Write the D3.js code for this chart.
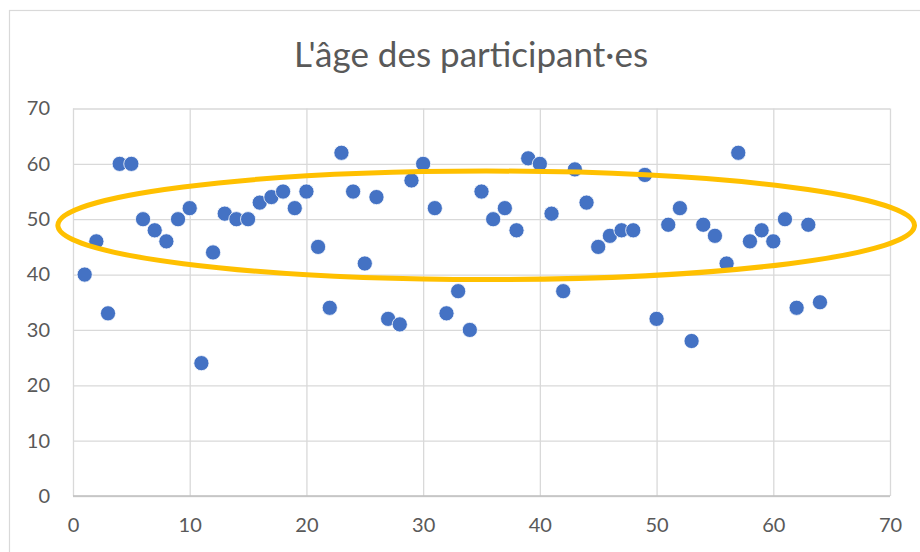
<!DOCTYPE html>
<html>
<head>
<meta charset="utf-8">
<script src="https://cdn.jsdelivr.net/npm/d3@7"></script>
<style>
  html, body { margin: 0; padding: 0; background: #fff; }
  svg { display: block; }
</style>
</head>
<body>
<svg id="chart" width="920" height="552"></svg>
<script>
// ---- data ----
const participants = d3.range(1, 65);
const ages = [
  40, 46, 33, 60, 60, 50, 48, 46, 50, 52,
  24, 44, 51, 50, 50, 53, 54, 55, 52, 55,
  45, 34, 62, 55, 42, 54, 32, 31, 57, 60,
  52, 33, 37, 30, 55, 50, 52, 48, 61, 60,
  51, 37, 59, 53, 45, 47, 48, 48, 58, 32,
  49, 52, 28, 49, 47, 42, 62, 46, 48, 46,
  50, 34, 49, 35
];
const xTicks = [0, 10, 20, 30, 40, 50, 60, 70];
const yTicks = [0, 10, 20, 30, 40, 50, 60, 70];
const title = "L'âge des participant·es";
// highlight ellipse annotation (data units)
const highlightCenter = [35.4, 48.9];
const highlightRadii = [36.7, 9.8];

// ---- layout ----
const svg = d3.select("#chart");
const W = 920, H = 552;
const plot = { left: 73, right: 890, top: 108.5, bottom: 496 };
const font = "Lato, 'Open Sans', sans-serif";
const textColor = "#595959";

svg.append("rect").attr("x", 9.5).attr("y", 10.5)
  .attr("width", W + 10).attr("height", H + 10)
  .attr("fill", "#fff").attr("stroke", "#D9D9D9").attr("stroke-width", 1.2);

const x = d3.scaleLinear().domain([0, 70]).range([plot.left, plot.right]);
const y = d3.scaleLinear().domain([0, 70]).range([plot.bottom, plot.top]);

// gridlines
const gY = svg.append("g").attr("transform", `translate(${plot.left},0)`)
  .call(d3.axisLeft(y).tickValues(yTicks).tickSize(-(plot.right - plot.left)).tickFormat(""));
gY.select(".domain").remove();
gY.selectAll("line").attr("stroke", "#D9D9D9").attr("stroke-width", 1.3);

const gX = svg.append("g").attr("transform", `translate(0,${plot.bottom})`)
  .call(d3.axisBottom(x).tickValues(xTicks).tickSize(-(plot.bottom - plot.top)).tickFormat(""));
gX.select(".domain").remove();
gX.selectAll("line").attr("stroke", "#D9D9D9").attr("stroke-width", 1.3);

// bottom axis line
svg.append("line").attr("x1", plot.left).attr("x2", plot.right)
  .attr("y1", plot.bottom).attr("y2", plot.bottom)
  .attr("stroke", "#BFBFBF").attr("stroke-width", 1.3);

// tick labels
const yLab = svg.append("g").attr("transform", `translate(${plot.left},0)`)
  .call(d3.axisLeft(y).tickValues(yTicks).tickSize(0).tickPadding(23).tickFormat(d3.format("d")));
yLab.select(".domain").remove();
yLab.selectAll("text").attr("fill", textColor).style("font-family", font).style("font-size", "20px");

const xLab = svg.append("g").attr("transform", `translate(0,${plot.bottom})`)
  .call(d3.axisBottom(x).tickValues(xTicks).tickSize(0).tickPadding(22).tickFormat(d3.format("d")));
xLab.select(".domain").remove();
xLab.selectAll("text").attr("fill", textColor).style("font-family", font).style("font-size", "20px");

// points
svg.append("g").selectAll("circle")
  .data(participants.map((p, i) => ({ p, a: ages[i] })))
  .join("circle")
  .attr("cx", d => x(d.p)).attr("cy", d => y(d.a))
  .attr("r", 7.6)
  .attr("fill", "#4472C4").attr("stroke", "#fff").attr("stroke-width", 0.8);

// ellipse annotation
svg.append("ellipse")
  .attr("cx", x(highlightCenter[0])).attr("cy", y(highlightCenter[1]))
  .attr("rx", x(highlightRadii[0]) - x(0)).attr("ry", y(0) - y(highlightRadii[1]))
  .attr("fill", "none").attr("stroke", "#FFC000").attr("stroke-width", 5);

// title
svg.append("text").attr("x", 471).attr("y", 67)
  .attr("text-anchor", "middle").attr("fill", textColor)
  .style("font-family", font).style("font-size", "35px")
  .text(title);
</script>
</body>
</html>
